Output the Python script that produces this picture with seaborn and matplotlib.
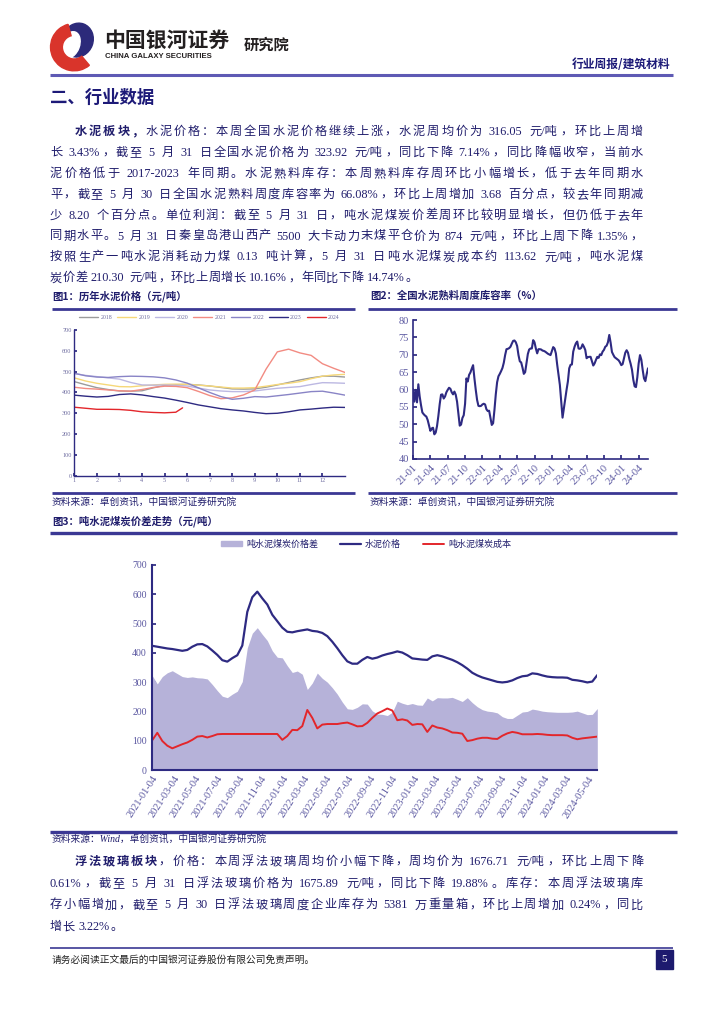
import re
import numpy as np
import pandas as pd
import matplotlib
matplotlib.use("Agg")
import matplotlib.pyplot as plt
import matplotlib.patches as mpatches
from matplotlib.lines import Line2D
from matplotlib.font_manager import FontProperties
import seaborn as sns

# --------------------------------------
# DATA
# --------------------------------------

# fig 1: cement price by year, half-month steps (month 1 .. 13)
months = np.arange(1, 13.01, 0.5)
price_2018 = [452, 437, 423, 414, 407, 406, 408, 422, 434, 437, 439, 436, 431,
              424, 417, 416, 417, 425, 436, 448, 460, 470, 478, 478, 474]
price_2019 = [470, 455, 444, 436, 428, 427, 432, 436, 439, 440, 439, 435, 431,
              426, 421, 421, 423, 430, 438, 444, 452, 466, 478, 484, 487]
price_2020 = [491, 482, 476, 470, 464, 448, 436, 435, 436, 434, 431, 421, 412,
              407, 404, 404, 407, 414, 420, 424, 428, 438, 447, 446, 444]
price_2021 = [425, 419, 416, 412, 408, 406, 414, 424, 430, 429, 423, 405, 385,
              370, 374, 388, 412, 512, 595, 608, 590, 578, 538, 516, 496]
price_2022 = [492, 480, 474, 472, 476, 478, 477, 475, 470, 460, 445, 422, 400,
              380, 367, 372, 380, 378, 384, 390, 397, 404, 406, 397, 387]
price_2023 = [387, 382, 378, 381, 390, 393, 388, 380, 373, 363, 352, 340, 331,
              322, 316, 311, 304, 298, 300, 307, 316, 320, 325, 329, 328]
months_2024 = [1, 1.5, 2, 2.5, 3, 3.5, 4, 4.5, 5, 5.5, 5.8]
price_2024 = [329, 324, 319, 319, 318, 314, 307, 304, 302, 305, 326]
year_labels = ["2018", "2019", "2020", "2021", "2022", "2023", "2024"]
month_labels = [str(m) for m in range(1, 13)]

# fig 2: weekly clinker storage ratio (%)
clinker = [60.1, 56.5, 59.9, 56.3, 61.5, 58.0, 55.5, 53.4, 52.9, 52.5,
           52.2, 51.2, 49.7, 48.1, 48.8, 49.0, 47.1, 47.6, 49.5, 52.4,
           55.8, 58.5, 58.6, 57.4, 58.0, 59.2, 59.9, 60.5, 60.2, 59.2,
           58.6, 59.4, 58.5, 56.5, 53.1, 49.6, 49.9, 51.8, 52.6, 55.9,
           63.2, 62.3, 64.2, 64.9, 66.0, 67.0, 63.2, 59.9, 57.0, 55.3,
           55.2, 55.3, 55.7, 55.9, 55.7, 54.3, 53.8, 53.9, 51.9, 49.8,
           50.3, 54.1, 58.6, 62.1, 63.8, 64.5, 65.3, 66.2, 67.7, 69.9,
           71.6, 71.7, 71.9, 72.3, 73.2, 74.0, 74.1, 73.6, 72.5, 69.9,
           68.1, 67.8, 66.3, 64.5, 65.0, 67.5, 70.2, 71.5, 71.8, 71.8,
           74.2, 73.6, 71.8, 70.4, 71.6, 71.6, 71.5, 71.2, 71.1, 70.9,
           70.6, 70.3, 70.1, 69.9, 71.1, 72.2, 71.8, 70.4, 67.1, 64.2,
           61.3, 56.5, 51.9, 54.6, 57.5, 59.9, 62.3, 66.1, 67.1, 67.2,
           70.9, 72.3, 73.3, 73.8, 71.8, 71.7, 72.0, 73.0, 72.3, 71.4,
           69.0, 69.3, 69.4, 69.4, 68.2, 66.9, 67.5, 68.5, 69.4, 69.1,
           70.1, 69.9, 70.9, 71.4, 72.3, 72.6, 73.6, 75.7, 73.5, 70.8,
           70.0, 69.3, 69.0, 68.7, 68.4, 67.8, 67.0, 67.3, 69.0, 70.6,
           71.3, 70.6, 68.8, 67.4, 65.7, 62.8, 60.9, 60.7, 63.5, 67.5,
           69.9, 68.6, 65.7, 63.2, 62.4, 64.4, 66.1]
clinker_weeks = pd.date_range(end="2024-05-30", periods=len(clinker), freq="7D")

# fig 3: cement price and coal cost per ton (yuan/t)
cement_price = [424, 421, 418, 415, 413, 410, 407, 410, 421, 429,
                430, 422, 408, 393, 375, 370, 382, 392, 425, 540,
                590, 609, 586, 565, 530, 508, 486, 472, 470, 474,
                477, 480, 475, 473, 468, 457, 438, 416, 392, 371,
                363, 363, 376, 386, 380, 384, 391, 396, 400, 405,
                401, 392, 381, 379, 377, 376, 388, 392, 388, 382,
                376, 368, 358, 346, 332, 323, 316, 311, 306, 301,
                299, 301, 306, 314, 320, 322, 330, 328, 323, 319,
                317, 316, 316, 315, 308, 306, 303, 299, 302, 324]
coal_cost = [102, 127, 99, 83, 74, 81, 88, 94, 103, 114,
             116, 111, 116, 122, 123, 123, 123, 123, 123, 123,
             123, 123, 123, 123, 123, 123, 103, 116, 137, 136,
             150, 205, 178, 142, 155, 157, 157, 157, 160, 162,
             156, 149, 150, 161, 178, 193, 201, 210, 203, 170,
             173, 169, 154, 157, 156, 130, 152, 145, 142, 136,
             128, 127, 124, 99, 102, 107, 110, 110, 107, 106,
             117, 125, 130, 127, 122, 122, 122, 123, 122, 120,
             119, 119, 119, 118, 110, 105, 108, 110, 112, 114]
spread_days = pd.date_range("2021-01-04", "2024-05-31", periods=len(cement_price))
spread = np.array(cement_price) - np.array(coal_cost)
spread_ticks = pd.date_range("2021-01-04", "2024-05-04", freq=pd.DateOffset(months=2))

# --------------------------------------
# STYLE
# --------------------------------------

sns.set_theme(style="white")
plt.rcParams["font.family"] = ["Liberation Serif", "Noto Sans CJK SC", "DejaVu Sans"]
plt.rcParams["axes.unicode_minus"] = False

NAVY = "#2e2a82"
TEXT = "#201d6c"
RULE = "#3b3894"
RED = "#e3262b"
LAV = "#b6b2d9"
TICK = "#5a57a0"
BODY = ["Liberation Serif", "Noto Sans CJK SC"]

W, H = 724, 1024
fig = plt.figure(figsize=(7.24, 10.24), dpi=100)
page = fig.add_axes([0, 0, 1, 1])
page.set_xlim(0, W)
page.set_ylim(H, 0)
page.axis("off")
renderer = fig.canvas.get_renderer()


def px_axes(l, t, r, b):
    return fig.add_axes([l / W, 1 - b / H, (r - l) / W, (b - t) / H])


def rule(x0, x1, y, lw=2.0, color=RULE):
    page.plot([x0, x1], [y, y], color=color, lw=lw, solid_capstyle="butt")


def put_line(segments, x0, x1, y, size=8.8, justify=True):
    items = []
    em = size * 100 / 72
    for s, bold in segments:
        fp = FontProperties(family=BODY, size=size, weight="bold" if bold else "normal")
        for tk in re.findall(r"[^\x00-\x7f]/[^\x00-\x7f]|[A-Za-z0-9.%\-/]+|\s+|.", s):
            if tk.isspace():
                w = 0.25 * em
            elif len(tk) > 1 or ord(tk[0]) < 128:
                w = renderer.get_text_width_height_descent(tk, fp, ismath=False)[0] + 1
            else:
                w = em
            items.append((tk, fp, w))
    total = sum(w for _, _, w in items)
    gap = (x1 - x0 - total) / (len(items) - 1) if justify else 0.3
    x = x0
    for tk, fp, w in items:
        if not tk.isspace():
            page.text(x, y, tk, fontproperties=fp, color=TEXT, va="center", ha="left")
        x += w + gap


# --------------------------------------
# HEADER
# --------------------------------------

logo = px_axes(46, 20, 100, 72)
logo.set_xlim(-1.1, 1.1)
logo.set_ylim(-1.1, 1.1)
logo.set_aspect("equal")
logo.axis("off")
logo.add_patch(mpatches.Ellipse((0.2, 0.25), 1.3, 1.45, angle=-20, color="#2c2a7a"))
logo.add_patch(mpatches.Ellipse((-0.1, 0.05), 0.75, 1.15, angle=-20, color="white"))
logo.add_patch(mpatches.Wedge((0.05, -0.05), 1.0, 105, 310, width=0.5, color="#d9342b"))

page.text(104, 40, "中国银河证券", fontsize=15, fontweight="bold", color="#231f20",
          family=["Noto Sans CJK SC"], va="center")
page.text(105, 57, "CHINA GALAXY SECURITIES", fontsize=5.6, fontweight="bold",
          color="#231f20", family=["Liberation Sans"], va="center")
page.text(244, 45, "研究院", fontsize=11, fontweight="bold", color="#231f20",
          family=["Noto Sans CJK SC"], va="center")
page.text(670, 64, "行业周报/建筑材料", fontsize=8.5, fontweight="bold", color="#1d1a78",
          family=["Noto Sans CJK SC"], va="center", ha="right")
rule(50, 673, 75, lw=2.2, color="#5e5ab4")

page.text(50, 98, "二、行业数据", fontsize=12.5, fontweight="bold", color="#1d1a78",
          family=["Noto Sans CJK SC"], va="center")

# --------------------------------------
# PARAGRAPH 1
# --------------------------------------

para1 = [
    [("水泥板块，", True), ("水泥价格：本周全国水泥价格继续上涨，水泥周均价为 316.05 元/吨，环比上周增", False)],
    [("长 3.43%，截至 5 月 31 日全国水泥价格为 323.92 元/吨，同比下降 7.14%，同比降幅收窄，当前水", False)],
    [("泥价格低于 2017-2023 年同期。水泥熟料库存：本周熟料库存周环比小幅增长，低于去年同期水", False)],
    [("平，截至 5 月 30 日全国水泥熟料周度库容率为 66.08%，环比上周增加 3.68 百分点，较去年同期减", False)],
    [("少 8.20 个百分点。单位利润：截至 5 月 31 日，吨水泥煤炭价差周环比较明显增长，但仍低于去年", False)],
    [("同期水平。5 月 31 日秦皇岛港山西产 5500 大卡动力末煤平仓价为 874 元/吨，环比上周下降 1.35%，", False)],
    [("按照生产一吨水泥消耗动力煤 0.13 吨计算，5 月 31 日吨水泥煤炭成本约 113.62 元/吨，吨水泥煤", False)],
    [("炭价差 210.30 元/吨，环比上周增长 10.16%，年同比下降 14.74%。", False)],
]
for i, segs in enumerate(para1):
    put_line(segs, 75 if i == 0 else 50, 643, 132 + i * 20.9, justify=i < len(para1) - 1)

# --------------------------------------
# FIG 1: HISTORICAL CEMENT PRICE
# --------------------------------------

page.text(52, 296, "图1：历年水泥价格（元/吨）", fontsize=7.5, fontweight="bold", color=TEXT,
          family=["Noto Sans CJK SC"], va="center")
rule(52, 355, 309)
rule(52, 355, 493)
page.text(52, 502, "资料来源：卓创资讯，中国银河证券研究院", fontsize=7, color=TEXT,
          family=BODY, va="center", style="italic")

ax1 = px_axes(74.3, 330, 345, 475.7)
year_colors = ["#9b9b9b", "#f6d879", "#bcb8e2", "#f28b82", "#8984c6", NAVY, RED]
series1 = [price_2018, price_2019, price_2020, price_2021, price_2022, price_2023]
for vals, lab, col in zip(series1, year_labels[:6], year_colors[:6]):
    sns.lineplot(x=months, y=vals, ax=ax1, color=col, lw=1.0, label=lab)
sns.lineplot(x=months_2024, y=price_2024, ax=ax1, color=RED, lw=1.0, label=year_labels[6])
ax1.set_xlim(1, 13)
ax1.set_ylim(0, 700)
ax1.set_yticks(range(0, 701, 100))
ax1.set_xticks(range(1, 13))
ax1.set_xticklabels(month_labels)
ax1.tick_params(labelsize=4.5, labelcolor="#6e6ca0", bottom=True, left=True,
                direction="in", length=2, color=NAVY, pad=2)
for s in ["top", "right"]:
    ax1.spines[s].set_visible(False)
for s in ["left", "bottom"]:
    ax1.spines[s].set_color(NAVY)
    ax1.spines[s].set_linewidth(1.0)
ax1.legend(loc="lower center", bbox_to_anchor=(0.5, 1.03), ncol=7, frameon=False,
           fontsize=4.2, handlelength=3.2, columnspacing=0.9, handletextpad=0.4,
           labelcolor="#6e6ca0")
ax1.set_xlabel("")
ax1.set_ylabel("")

# --------------------------------------
# FIG 2: CLINKER STORAGE RATIO
# --------------------------------------

page.text(370, 296, "图2：全国水泥熟料周度库容率（%）", fontsize=7.5, fontweight="bold",
          color=TEXT, family=["Noto Sans CJK SC"], va="center")
rule(368, 677, 309)
rule(368, 677, 493)
page.text(370, 502, "资料来源：卓创资讯，中国银河证券研究院", fontsize=7, color=TEXT,
          family=BODY, va="center", style="italic")

ax2 = px_axes(413, 320, 648, 459)
sns.lineplot(x=clinker_weeks, y=clinker, ax=ax2, color=NAVY, lw=1.5)
ax2.set_xlim(clinker_weeks[0], clinker_weeks[-1])
ax2.set_ylim(40, 80)
ax2.set_yticks(range(40, 81, 5))
ax2.set_xticks(clinker_weeks[::13])
ax2.set_xticklabels([d.strftime("%y-%m") for d in clinker_weeks[::13]], rotation=45,
                    ha="right", rotation_mode="anchor")
ax2.tick_params(labelsize=7.5, labelcolor=TICK, bottom=True, left=True,
                direction="in", length=3, color=NAVY, pad=3)
for s in ["top", "right"]:
    ax2.spines[s].set_visible(False)
for s in ["left", "bottom"]:
    ax2.spines[s].set_color(NAVY)
    ax2.spines[s].set_linewidth(1.2)
ax2.set_xlabel("")
ax2.set_ylabel("")

# --------------------------------------
# FIG 3: CEMENT-COAL SPREAD
# --------------------------------------

page.text(52, 521, "图3：吨水泥煤炭价差走势（元/吨）", fontsize=7.5, fontweight="bold",
          color=TEXT, family=["Noto Sans CJK SC"], va="center")
rule(50, 677, 533, lw=2.4)
rule(50, 677, 832, lw=2.4)
page.text(52, 839, "资料来源：Wind，卓创资讯，中国银河证券研究院", fontsize=7, color=TEXT,
          family=BODY, va="center", style="italic")

ax3 = px_axes(152.3, 565, 597.3, 770)
ax3.fill_between(spread_days, 0, spread, color=LAV, lw=0)
sns.lineplot(x=spread_days, y=cement_price, ax=ax3, color=NAVY, lw=1.6)
sns.lineplot(x=spread_days, y=coal_cost, ax=ax3, color=RED, lw=1.4)
ax3.set_xlim(spread_days[0], spread_days[-1])
ax3.set_ylim(0, 700)
ax3.set_yticks(range(0, 701, 100))
ax3.set_xticks(spread_ticks)
ax3.set_xticklabels([d.strftime("%Y-%m-%d") for d in spread_ticks], rotation=57,
                    ha="right", rotation_mode="anchor")
ax3.tick_params(axis="y", labelsize=7, labelcolor=TICK, left=True, direction="in",
                length=3, color=NAVY, pad=4)
ax3.tick_params(axis="x", labelsize=7.5, labelcolor=TICK, bottom=True, direction="in",
                length=3, color=NAVY, pad=3)
for s in ["top", "right"]:
    ax3.spines[s].set_visible(False)
for s in ["left", "bottom"]:
    ax3.spines[s].set_color(NAVY)
    ax3.spines[s].set_linewidth(1.5)
handles = [mpatches.Patch(color=LAV, label="吨水泥煤炭价格差"),
           Line2D([], [], color=NAVY, lw=1.6, label="水泥价格"),
           Line2D([], [], color=RED, lw=1.4, label="吨水泥煤炭成本")]
ax3.legend(handles=handles, loc="lower center", bbox_to_anchor=(0.48, 1.04), ncol=3,
           frameon=False, fontsize=6.5, handlelength=2.4, handleheight=0.5,
           columnspacing=2.4, handletextpad=0.4, labelcolor=TEXT)
ax3.set_xlabel("")
ax3.set_ylabel("")

# --------------------------------------
# PARAGRAPH 2 + FOOTER
# --------------------------------------

para2 = [
    [("浮法玻璃板块", True), ("，价格：本周浮法玻璃周均价小幅下降，周均价为 1676.71 元/吨，环比上周下降", False)],
    [("0.61%，截至 5 月 31 日浮法玻璃价格为 1675.89 元/吨，同比下降 19.88%。库存：本周浮法玻璃库", False)],
    [("存小幅增加，截至 5 月 30 日浮法玻璃周度企业库存为 5381 万重量箱，环比上周增加 0.24%，同比", False)],
    [("增长 3.22%。", False)],
]
for i, segs in enumerate(para2):
    put_line(segs, 75 if i == 0 else 50, 643, 862 + i * 21.7, justify=i < len(para2) - 1)

rule(50, 673, 948, lw=1.2)
page.text(52, 960, "请务必阅读正文最后的中国银河证券股份有限公司免责声明。", fontsize=7,
          color="#222222", family=BODY, va="center")
page.add_patch(mpatches.Rectangle((656, 950), 17, 19, color="#1d1a6e"))
page.text(664.5, 959.5, "5", fontsize=8, color="white", ha="center", va="center",
          family=["Liberation Serif"])

plt.savefig("out.png", dpi=100)
